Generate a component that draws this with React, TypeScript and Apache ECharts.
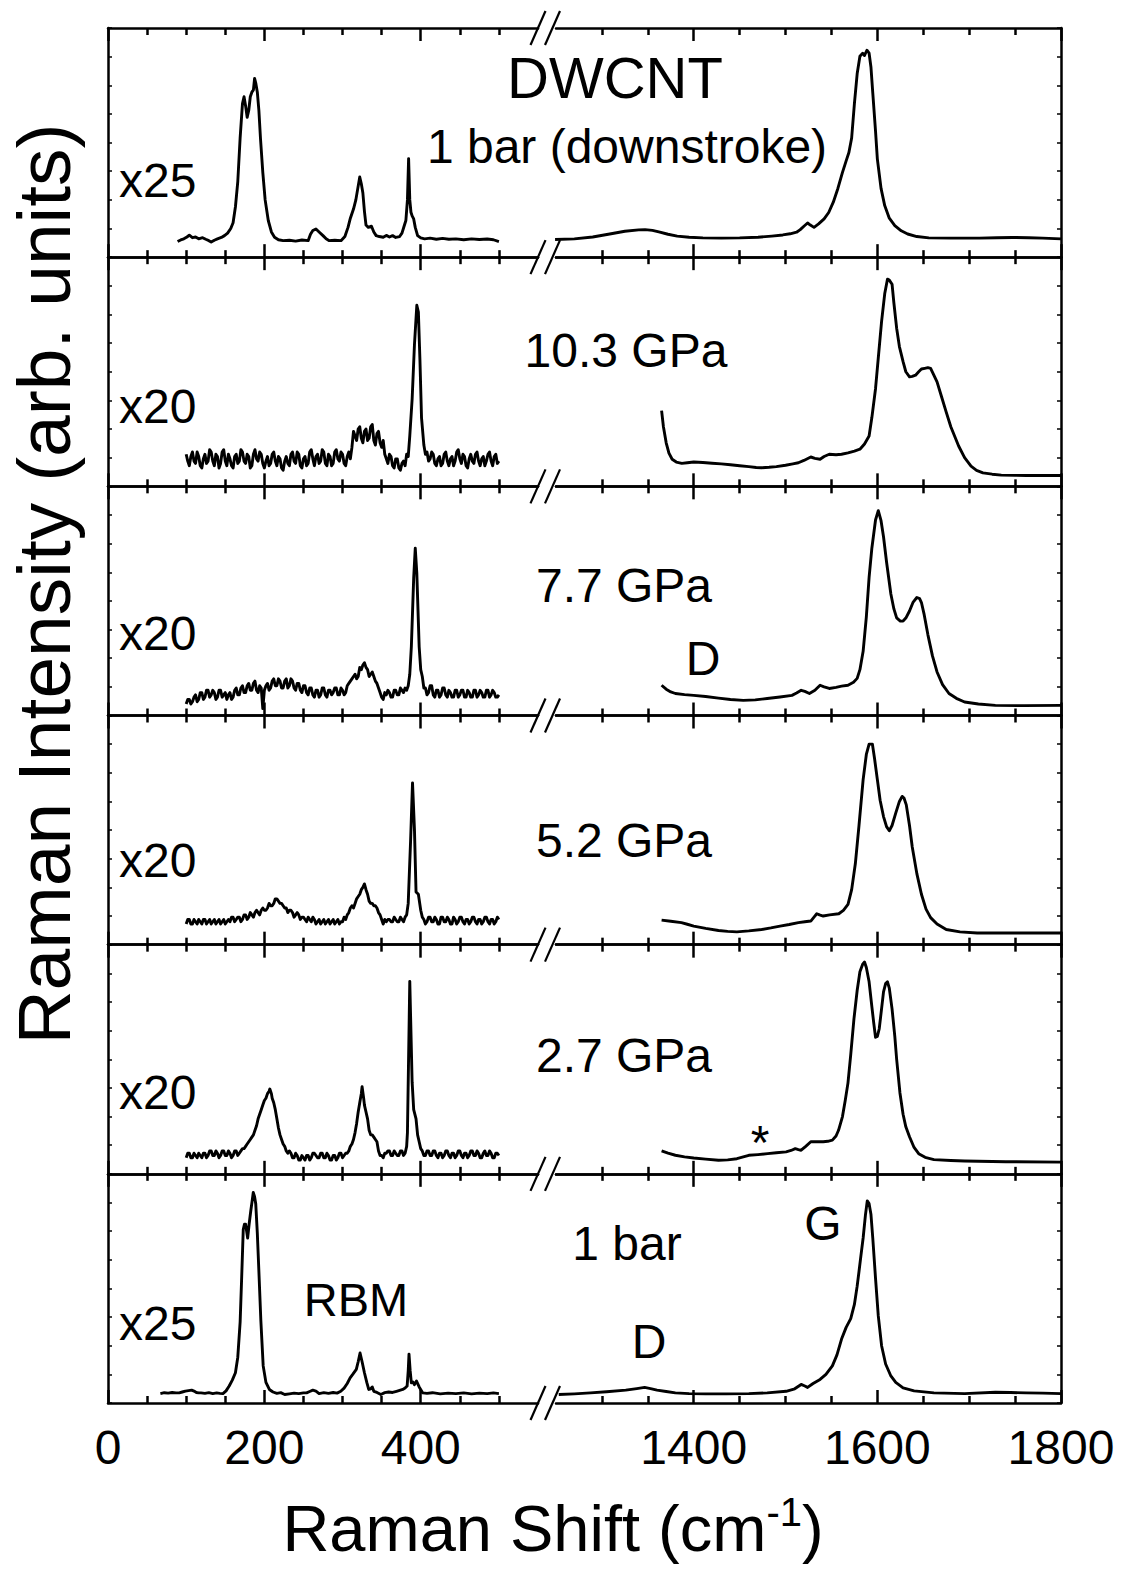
import React, { useEffect, useRef } from "react";
import * as echarts from "echarts";

// ---------------- data (x: Raman shift in cm^-1, y: intensity, arb. units, 0..100 per panel) -------------
const panelTitles = ["1 bar (downstroke)", "10.3 GPa", "7.7 GPa", "5.2 GPa", "2.7 GPa", "1 bar"];
const scaleFactors = ["x25", "x20", "x20", "x20", "x20", "x25"];
const leftMajorTicks = [0, 200, 400];
const leftMinorTicks = [50, 100, 150, 250, 300, 350, 450, 500];
const rightMajorTicks = [1400, 1600, 1800];
const rightMinorTicks = [1300, 1350, 1450, 1500, 1550, 1650, 1700, 1750];
const leftRange = [0, 550];
const rightRange = [1250, 1800];

// panel 1: 1 bar (downstroke)
const rbmDown = [[89,6.8],[93,7.5],[97,8],[101,8.8],[104,9.6],[108,8.5],[112,8.8],[116,8],[121,8.5],[125,7.8],[129,7.2],[132,6.6],[136,7.4],[140,8],[145,8.6],[149,9.4],[153,10.5],[157,12.5],[160,15],[163,22],[166,33],[169,52],[172,67],[174,70],[176,66],[178,61],[180,64],[182,70],[184,72],[186,73],[187.5,78],[189,76],[191,72],[193,64],[195,52],[198,37],[201,25],[205,16],[209,11],[213,8.7],[218,7.6],[224,7.2],[232,7.4],[240,7],[248,7.5],[256,7.2],[259,10],[262,11.6],[266,12.3],[270,11],[275,9.4],[279,8],[283,7.2],[290,7.4],[298,7.2],[303,9],[307,13],[310,17],[314,21],[317,25],[320,31],[322,35],[324,32],[326,28],[328,20],[330,14],[333,13],[337,13.5],[340,11],[343,9.4],[347,9],[352,8.7],[356,9.5],[360,8.8],[364,9.4],[368,8.6],[373,9],[376,10.5],[379,13.8],[381,16],[383,25],[384.5,43],[386,25],[387.5,19.6],[389,18],[391,16.7],[393,13],[396,9.4],[400,8.4],[405,8],[412,8.3],[420,7.8],[428,8.2],[436,7.8],[445,8],[455,7.6],[465,8],[475,7.7],[485,7.9],[493,7.6],[500,6.8]];
const gDown = [[1249,7.7],[1270,8],[1290,8.8],[1310,10.2],[1325,11.3],[1340,11.9],[1347,12],[1355,11.7],[1362,11],[1372,10],[1382,9.2],[1395,8.7],[1410,8.4],[1430,8.3],[1450,8.4],[1470,8.7],[1485,9.2],[1497,9.7],[1505,10.2],[1512,10.9],[1516,12],[1520,13.5],[1524,14.9],[1527,14],[1531,13],[1536,14.5],[1542,16.7],[1547,19.5],[1552,24],[1557,30],[1562,37],[1566,42],[1569,45.7],[1572,52],[1575,67],[1578,80],[1581,87.7],[1584,89],[1586,88],[1588.6,90.3],[1591,89],[1593,83],[1595,71.7],[1598,55],[1600,42.8],[1604,30],[1608,22.5],[1613,17],[1619,13.8],[1626,11.5],[1633,10.1],[1643,9],[1656,8.4],[1680,8.3],[1711,8.3],[1730,8.5],[1747,8.6],[1765,8.5],[1780,8.3],[1800,8]];

// panel 2: 10.3 GPa
const rbm103 = [[100,14],[102,11],[104,9],[106,13],[108,15],[110,11],[112,10],[114,15],[116,13],[118,9],[120,8],[122,12],[124,14],[126,10],[128,11],[130,16],[132,15],[134,11],[136,9],[138,14],[140,13],[142,8],[144,10],[146,15],[148,16],[150,11],[152,9],[154,14],[156,12],[158,9],[160,8],[162,13],[164,14],[166,10],[168,11],[170,16],[172,15],[174,11],[176,10],[178,14],[180,13],[182,8],[184,9],[186,14],[188,16],[190,12],[192,11],[194,15],[196,14],[198,10],[200,8],[202,11],[204,13],[206,9],[208,10],[210,14],[212,15],[214,11],[216,9],[218,13],[220,12],[222,8],[224,7],[226,11],[228,13],[230,10],[232,9],[234,14],[236,15],[238,11],[240,10],[242,15],[244,14],[246,9],[248,8],[250,12],[252,13],[254,9],[256,10],[258,15],[260,16],[262,12],[264,9],[266,13],[268,14],[270,10],[272,11],[274,16],[276,15],[278,10],[280,9],[282,14],[284,13],[286,9],[288,10],[290,15],[292,16],[294,12],[296,11],[298,15],[300,14],[302,10],[304,9],[306,13],[308,15],[310,12],[312,17],[314,24],[316,22],[318,20],[320,25],[322,26],[324,21],[326,19],[328,24],[330,25],[332,20],[334,21],[336,26],[338,27],[340,20],[342,18],[344,23],[346,24],[348,19],[350,17],[352,20],[354,14],[356,12],[358,10],[360,14],[362,13],[364,9],[366,8],[368,12],[370,12],[372,8],[374,7],[376,10],[378,11],[380,9],[382,14],[384,13],[386,22],[389,38],[392,62],[395,79],[397,76],[399,55],[401,30],[404,18],[406,14],[408,15],[410,11],[412,12],[414,15],[416,14],[418,10],[420,9],[422,12],[424,13],[426,9],[428,10],[430,14],[432,15],[434,11],[436,9],[438,12],[440,13],[442,9],[444,11],[446,15],[448,16],[450,12],[452,10],[454,14],[456,13],[458,9],[460,8],[462,12],[464,14],[466,11],[468,10],[470,14],[472,15],[474,11],[476,9],[478,12],[480,13],[482,9],[484,11],[486,14],[488,15],[490,11],[492,9],[494,13],[496,14],[498,10],[500,11]];
const g103 = [[1365,33],[1367,26],[1370,19],[1373,14.5],[1376.5,11.8],[1381,10.6],[1387,10],[1393,10.3],[1400,10.6],[1410,10.4],[1420,10.1],[1430,9.8],[1440,9.4],[1450,9],[1460,8.6],[1468,8.2],[1474,8.1],[1482,8.3],[1490,8.6],[1500,9.2],[1508,9.8],[1514,10.3],[1520,11.3],[1527.5,12.8],[1532,12.2],[1537.6,11.8],[1542,13],[1547.6,14],[1555,13.8],[1561,14],[1568,14.6],[1575,15.4],[1581,16.2],[1586,18.5],[1591,22],[1594,30],[1598,42.6],[1601,56],[1604.6,72],[1608,84],[1611,90.4],[1613,90],[1616,88.2],[1618,80],[1621,69],[1624,61],[1628,54.4],[1631,50],[1635,47.8],[1638,48],[1641.6,48.5],[1645,50],[1648,51.2],[1651.6,51.5],[1655,51.8],[1658,51.5],[1661,49],[1665,45.6],[1670,39],[1675,32.4],[1680,26],[1688.5,17.6],[1695,12.5],[1702,8.8],[1708,7],[1715,5.9],[1725,5.3],[1735,4.9],[1750,4.8],[1762,4.7],[1780,4.8],[1800,4.7]];

// panel 3: 7.7 GPa
const rbm77 = [[100,5],[102,7],[104,7],[106,5],[108,6],[110,8],[112,9],[114,6],[116,7],[118,10],[120,10],[122,7],[124,8],[126,11],[128,11],[130,8],[132,9],[134,11],[136,10],[138,7],[140,8],[142,11],[144,11],[146,8],[148,9],[150,10],[152,7],[154,9],[156,10],[158,7],[160,8],[162,11],[164,12],[166,9],[168,9],[170,12],[172,13],[174,10],[176,10],[178,13],[180,14],[182,11],[184,11],[186,14],[188,15],[190,11],[192,10],[194,13],[196,12],[198,3],[200,11],[202,13],[204,14],[206,11],[208,12],[210,15],[212,16],[214,13],[216,13],[218,16],[220,15],[222,12],[224,12],[226,15],[228,16],[230,12],[232,13],[234,16],[236,15],[238,12],[240,11],[242,14],[244,14],[246,11],[248,10],[250,13],[252,13],[254,10],[256,9],[258,12],[260,12],[262,9],[264,8],[266,11],[268,11],[270,8],[272,9],[274,12],[276,12],[278,9],[280,8],[282,11],[284,11],[286,9],[288,10],[290,12],[292,12],[294,9],[296,9],[298,12],[300,11],[302,9],[304,10],[306,13],[308,14],[310,15],[312,16],[314,17],[316,18],[318,16],[320,17],[322,21],[324,20],[326,22],[328,23],[330,21],[332,20],[334,17],[336,18],[338,19],[340,17],[342,15],[344,14],[346,12],[348,10],[350,8],[352,7],[354,10],[356,9],[358,11],[360,10],[362,8],[364,8],[366,11],[368,11],[370,9],[372,9],[374,12],[376,11],[378,10],[380,12],[382,11],[384,13],[386,18],[388,30],[391,60],[393,73],[395,62],[398,30],[400,20],[402,17],[404,12],[406,12],[408,9],[410,10],[412,13],[414,13],[416,9],[418,8],[420,11],[422,11],[424,8],[426,9],[428,12],[430,12],[432,9],[434,8],[436,11],[438,10],[440,8],[442,8],[444,11],[446,11],[448,8],[450,9],[452,11],[454,11],[456,8],[458,8],[460,11],[462,10],[464,8],[466,8],[468,11],[470,11],[472,8],[474,9],[476,11],[478,10],[480,8],[482,8],[484,11],[486,11],[488,8],[490,9],[492,11],[494,10],[496,8],[498,8],[500,9]];
const g77 = [[1365,13.2],[1370,11.5],[1375,10.3],[1380,9.6],[1390,9.1],[1400,8.8],[1413,8.3],[1427,7.6],[1440,7],[1454,6.6],[1467,6.8],[1480,7.4],[1494,8.1],[1507,8.8],[1512,9.8],[1517,11],[1521,10.5],[1526,9.6],[1532,11],[1537.6,13.2],[1542,12.5],[1547.6,11.8],[1555,12.3],[1561,12.8],[1568,13.2],[1574,14.5],[1578,16.2],[1581,20],[1584.5,28],[1588,43],[1591,60.3],[1594,73],[1598,85.3],[1601,89.4],[1604,85],[1606.7,78],[1610,67],[1614.7,53],[1618,46.5],[1621,42.6],[1625,41.2],[1628,41.2],[1631,42.5],[1635,45.6],[1639,49.5],[1643,51.5],[1646,51],[1648,49.3],[1651,44],[1655,35.3],[1660,26],[1665,19],[1671,13.5],[1678,9.6],[1686,7.5],[1695,5.9],[1710,5],[1728.5,4.4],[1760,4.3],[1800,4.4]];

// panel 4: 5.2 GPa
const rbm52 = [[100,9],[102,11],[104,11],[106,9],[108,9],[110,11],[112,10],[114,9],[116,11],[118,10],[120,9],[122,11],[124,11],[126,9],[128,10],[130,11],[132,9],[134,10],[136,11],[138,9],[140,10],[142,11],[144,9],[146,10],[148,11],[150,9],[152,10],[154,11],[156,10],[158,12],[160,12],[162,10],[164,11],[166,12],[168,12],[170,10],[172,11],[174,13],[176,13],[178,11],[180,12],[182,14],[184,13],[186,12],[188,14],[190,15],[192,14],[194,13],[196,15],[198,16],[200,15],[202,15],[204,16],[206,18],[208,17],[210,17],[212,18],[214,20],[216,20],[218,19],[220,18],[222,18],[224,17],[226,16],[228,16],[230,14],[232,15],[234,15],[236,14],[238,12],[240,13],[242,14],[244,13],[246,11],[248,12],[250,12],[252,11],[254,10],[256,12],[258,11],[260,10],[262,12],[264,11],[266,9],[268,10],[270,11],[272,9],[274,10],[276,11],[278,9],[280,10],[282,11],[284,9],[286,10],[288,11],[290,9],[292,10],[294,11],[296,9],[298,10],[300,10],[302,12],[304,11],[306,13],[308,14],[310,16],[312,17],[314,16],[316,18],[318,20],[320,21],[322,22],[324,24],[326,25],[328,26.5],[330,24],[332,22],[334,19],[336,18],[338,18],[340,17],[342,17],[344,16],[346,14],[348,13],[350,11],[352,9],[354,11],[356,10],[358,11],[360,11],[362,10],[364,10],[366,12],[368,11],[370,10],[372,10],[374,12],[376,11],[378,10],[380,12],[382,13],[384,18],[387,45],[389.5,70.6],[392,50],[394,23],[397,22],[400,15],[402,12],[404,11],[406,9],[408,10],[410,12],[412,12],[414,10],[416,10],[418,12],[420,11],[422,9],[424,9],[426,12],[428,12],[430,10],[432,10],[434,12],[436,11],[438,9],[440,9],[442,12],[444,11],[446,9],[448,10],[450,12],[452,12],[454,10],[456,9],[458,11],[460,11],[462,9],[464,10],[466,12],[468,12],[470,10],[472,9],[474,11],[476,11],[478,9],[480,10],[482,12],[484,12],[486,10],[488,9],[490,11],[492,11],[494,9],[496,10],[498,12],[500,11]];
const g52 = [[1365,10.7],[1375,10.2],[1386.6,9.6],[1393,8.9],[1400,8.1],[1413,7.1],[1427,6.2],[1437,5.8],[1447,5.6],[1460,6],[1474,6.6],[1484,7.3],[1494,8.1],[1504,8.8],[1514,9.6],[1521,10],[1527.5,10.3],[1531,12],[1534,13.5],[1537,13],[1541,12.5],[1548,13],[1558,13.5],[1563,15],[1568,17.6],[1572,24],[1576,35.3],[1580,52],[1584.5,72],[1588,83],[1591,87.5],[1594.6,87.5],[1597,81],[1600,72],[1603,63],[1606.7,55.9],[1610,51.5],[1613,49.7],[1616,52],[1620,57.4],[1624,62.5],[1627,64.7],[1629,64],[1631.5,61],[1635,52],[1638,42.6],[1643,31],[1648,22],[1653,15.5],[1658,11.8],[1665,9],[1675,6.6],[1690,5.6],[1708.7,5.1],[1750,5.1],[1800,5.1]];

// panel 5: 2.7 GPa
const rbm27 = [[100,7],[102,9],[104,9],[106,7],[108,7],[110,9],[112,8],[114,7],[116,9],[118,8],[120,7],[122,9],[124,9],[126,7],[128,8],[130,10],[132,10],[134,8],[136,8],[138,10],[140,9],[142,7],[144,8],[146,10],[148,10],[150,8],[152,8],[154,10],[156,9],[158,7],[160,8],[162,10],[164,10],[166,8],[168,9],[170,10],[172,11],[174,11],[176,12],[178,13],[180,14],[182,15],[184,16],[186,17],[188,19],[190,21],[192,24],[194,26],[196,28],[198,30],[200,32],[202,33],[204,35],[206,36],[207,37],[209,35],[210,33],[212,31],[214,28],[216,24],[218,20],[220,17],[222,15],[224,13],[226,12],[228,10],[230,9],[232,10],[234,9],[236,7],[238,7],[240,9],[242,8],[244,6],[246,6],[248,8],[250,7],[252,6],[254,8],[256,8],[258,6],[260,7],[262,9],[264,9],[266,8],[268,7],[270,7],[272,9],[274,9],[276,7],[278,7],[280,9],[282,8],[284,6],[286,6],[288,8],[290,8],[292,6],[294,7],[296,9],[298,9],[300,7],[302,8],[304,9],[306,9],[308,10],[310,12],[312,13],[314,15],[316,18],[318,22],[320,27],[322,31],[324,35],[325,38],[327,33],[328,30],[330,27],[332,24],[334,19],[336,17],[338,17],[340,16],[342,15],[344,14],[346,10],[348,8],[350,8],[352,7],[354,9],[356,9],[358,10],[360,10],[362,8],[364,8],[366,10],[368,9],[370,8],[372,8],[374,10],[376,10],[378,8],[380,9],[382,12],[383,18],[386,84],[389,40],[391,28],[394,24],[396,17],[398,14],[400,11],[402,10],[404,8],[406,8],[408,10],[410,10],[412,8],[414,8],[416,10],[418,10],[420,8],[422,7],[424,9],[426,9],[428,7],[430,8],[432,10],[434,10],[436,8],[438,7],[440,9],[442,9],[444,7],[446,8],[448,10],[450,10],[452,8],[454,7],[456,9],[458,9],[460,7],[462,8],[464,10],[466,10],[468,8],[470,8],[472,10],[474,9],[476,7],[478,7],[480,9],[482,10],[484,8],[486,8],[488,10],[490,9],[492,7],[494,7],[496,9],[498,9],[500,8]];
const g27 = [[1365,10],[1372,9],[1380,8.1],[1390,7.4],[1400,6.9],[1413,6.4],[1427,5.9],[1437,6.1],[1447,6.6],[1455,7.5],[1460,8.1],[1470,8.4],[1480.5,8.8],[1490,9.2],[1500.6,9.6],[1506,10.2],[1510.6,11],[1514,10.6],[1517,10.3],[1522,12],[1527.5,14],[1534,14],[1541,14],[1546,14.2],[1551,14.7],[1555,16.5],[1557.7,19],[1562,25],[1565,32],[1568,39.7],[1571,52],[1574.5,67.6],[1578,80],[1581,88.2],[1584,91.5],[1586,92.4],[1588,90],[1591,83.8],[1594,73],[1596,66],[1598,59.6],[1600,60],[1602,63.2],[1604,70],[1606.7,79.4],[1609,83],[1611,83.8],[1613,81],[1616,72],[1619,60],[1621,50],[1624.6,35.3],[1628,26],[1631,20.5],[1635,16.2],[1640,11.5],[1645,8.8],[1652,7.2],[1661.6,6.2],[1680,5.8],[1695,5.6],[1740,5.3],[1800,5.1]];

// panel 6: 1 bar
const rbm1 = [[67,4.1],[72,4.5],[77,4.3],[82,4.6],[87,4.4],[91,4.4],[95,4.8],[99,5.2],[103,5.4],[107,5.6],[110,5.2],[113,4.6],[116,4.4],[119,4.4],[124,4.2],[129,4.5],[134,4.1],[139,4.4],[143,4.2],[147,4.1],[151,5.3],[155,7.4],[159,10],[163,13.2],[166,20],[169,35.3],[171,55],[173,75.7],[174.5,78],[176,78],[177.3,75],[178.6,72],[180.5,78],[182.6,83.8],[184.3,88],[185.8,91.9],[187.5,90],[189,86.8],[191,74],[193,57.4],[195.5,36],[198.5,16.2],[202,9],[206.4,5.9],[211,4.8],[216,4.2],[221,4.5],[226,3.7],[232,4],[238,4.3],[244,4.1],[250,4.4],[254,4.4],[258,5],[262,5.6],[266,5.2],[270,4.1],[276,4.5],[282,4.2],[288,4.6],[293,4.3],[297.7,5.1],[302,6.5],[306,8.5],[309.7,11],[313,12.5],[317.6,14.7],[320,18],[322.4,21.8],[325,18],[328,13.2],[331,9],[333.5,5.9],[336,6.2],[338,7],[340,5.1],[344,4.6],[349,3.7],[354,4.5],[359,4.8],[364,4.6],[369,5.1],[373,5.5],[377,5.9],[380,6.5],[382.6,7.4],[384,14],[385,21.3],[386.5,14],[388,8.8],[390,9.2],[392,8],[394.6,9.6],[398,7],[402.6,4.4],[408,4.2],[415,4.5],[425,4],[435,4.3],[445,4.1],[455,4.4],[465,4],[475,4.3],[485,4.1],[493,4.4],[500,4.1]];
const g1 = [[1253,3.7],[1270,4],[1287.5,4.4],[1305,4.9],[1326,5.6],[1338,6.3],[1346.5,6.8],[1353,6.3],[1360,5.6],[1370,5],[1380,4.4],[1395,4.1],[1413,4],[1435,4],[1460,4.1],[1480,4.4],[1500.6,5.1],[1510,6.2],[1517,8.1],[1521,7.4],[1524,6.8],[1530,8.5],[1537.6,10.3],[1544,12.5],[1551,16.2],[1556,21],[1561,27.9],[1566,33],[1571,36.8],[1575,43],[1578,51],[1580,57.4],[1582,64],[1584.5,72],[1587,82],[1589,88.2],[1591,87],[1593,82.4],[1595,72],[1598,54.4],[1601,38],[1604.6,25],[1609,17],[1614.7,11.8],[1620,9],[1628,6.6],[1640,5.3],[1661.6,4.4],[1695,4.1],[1728.5,4.7],[1745,4.6],[1762,4.4],[1780,4.3],[1800,4.1]];

const leftCurves = [rbmDown, rbm103, rbm77, rbm52, rbm27, rbm1];
const rightCurves = [gDown, g103, g77, g52, g27, g1];

// ---------------- layout -------------
const W = 1121;
const H = 1571;
const FONT = "'Liberation Sans', Arial, Helvetica, sans-serif";
const TOP = 28;
const BOTTOM = 1403;
const NP = 6;
const PH = (BOTTOM - TOP) / NP;
const LEFT_X = 108;
const LEFT_W = 430;
const RIGHT_X = 556;
const RIGHT_W = 505;
const AXIS_W = 2.5;

function buildOption() {
  const grid: any[] = [];
  const xAxis: any[] = [];
  const yAxis: any[] = [];
  const series: any[] = [];
  const lineStyle = { color: "#000", width: AXIS_W };

  for (let k = 0; k < NP; k++) {
    const top = TOP + k * PH;
    for (let side = 0; side < 2; side++) {
      const gi = grid.length;
      grid.push({ left: side ? RIGHT_X : LEFT_X, width: side ? RIGHT_W : LEFT_W, top, height: PH });
      const range = side ? rightRange : leftRange;
      const major = side ? rightMajorTicks : leftMajorTicks;
      const minor = side ? rightMinorTicks : leftMinorTicks;
      const isBottomPanel = k === NP - 1;
      const base = { type: "value", gridIndex: gi, min: range[0], max: range[1], splitLine: { show: false } };
      const dataAxisIndex = xAxis.length;
      for (const pos of ["bottom", "top"]) {
        xAxis.push({
          ...base,
          position: pos,
          axisLine: { show: true, onZero: false, lineStyle },
          axisTick: { show: true, inside: true, length: 13, customValues: major, lineStyle },
          axisLabel: {
            show: isBottomPanel && pos === "bottom",
            customValues: major,
            formatter: (v: number) => String(v),
            margin: 20,
            fontSize: 48,
            color: "#000",
            fontFamily: FONT,
          },
        });
        xAxis.push({
          ...base,
          position: pos,
          axisLine: { show: false, onZero: false },
          axisTick: { show: true, inside: true, length: 7, customValues: minor, lineStyle },
          axisLabel: { show: false },
        });
      }
      yAxis.push({
        type: "value",
        gridIndex: gi,
        position: side ? "right" : "left",
        min: 0,
        max: 100,
        interval: 12.5,
        axisLine: { show: true, onZero: false, lineStyle },
        axisTick: { show: true, inside: true, length: 4, lineStyle: { color: "#000", width: 1.5 } },
        axisLabel: { show: false },
        splitLine: { show: false },
      });
      series.push({
        type: "line",
        xAxisIndex: dataAxisIndex,
        yAxisIndex: gi,
        data: side ? rightCurves[k] : leftCurves[k],
        symbol: "none",
        showSymbol: false,
        silent: true,
        clip: true,
        lineStyle: { color: "#000", width: 2.9, join: "round" },
      });
    }
  }

  const txt = (text: string, x: number, y: number, size: number, align = "center") => ({
    type: "text",
    x,
    y,
    silent: true,
    style: {
      text,
      fill: "#000",
      font: `${size}px ${FONT}`,
      fontSize: size,
      fontFamily: FONT,
      textAlign: align,
      align,
      textVerticalAlign: "middle",
      verticalAlign: "middle",
    },
  });

  const graphics: any[] = [];
  // axis-break marks
  for (let k = 0; k <= NP; k++) {
    const y = TOP + k * PH;
    for (const cx of [538, 552.5]) {
      graphics.push({
        type: "line",
        silent: true,
        shape: { x1: cx - 7.5, y1: y + 17, x2: cx + 7.5, y2: y - 17 },
        style: { stroke: "#000", lineWidth: 2.2 },
      });
    }
  }
  const titleY = [146, 350, 585, 840, 1055, 1243];
  const titleX = [627, 626, 624, 624, 624, 627];
  const scaleY = [180, 406, 633, 860, 1092, 1323];
  for (let k = 0; k < NP; k++) {
    graphics.push(txt(panelTitles[k], titleX[k], titleY[k], 48));
    graphics.push(txt(scaleFactors[k], 119, scaleY[k], 48, "left"));
  }
  graphics.push(txt("DWCNT", 615, 77, 58));
  graphics.push(txt("D", 703, 658, 48));
  graphics.push(txt("*", 760, 1142, 48));
  graphics.push(txt("G", 823, 1223, 48));
  graphics.push(txt("RBM", 356, 1299, 47));
  graphics.push(txt("D", 649, 1341, 48));
  // axis titles
  graphics.push({
    type: "text",
    x: 44,
    y: 584,
    rotation: Math.PI / 2,
    silent: true,
    style: {
      text: "Raman Intensity (arb. units)",
      fill: "#000",
      font: `75px ${FONT}`,
      fontSize: 75,
      fontFamily: FONT,
      textAlign: "center",
      align: "center",
      textVerticalAlign: "middle",
      verticalAlign: "middle",
    },
  });
  graphics.push({
    type: "text",
    x: 553,
    y: 1528,
    silent: true,
    style: {
      text: "{a|Raman Shift (cm}{s|-1}{a|)}",
      fill: "#000",
      textAlign: "center",
      align: "center",
      textVerticalAlign: "middle",
      verticalAlign: "middle",
      rich: {
        a: { fontSize: 65, fontFamily: FONT, fill: "#000", lineHeight: 72 },
        s: { fontSize: 40, fontFamily: FONT, fill: "#000", lineHeight: 40, verticalAlign: "top" },
      },
    },
  });

  return {
    animation: false,
    backgroundColor: "#fff",
    grid,
    xAxis,
    yAxis,
    series,
    graphic: { elements: graphics },
  };
}

export default function App() {
  const ref = useRef<HTMLDivElement>(null);
  useEffect(() => {
    document.body.style.margin = "0";
    if (!ref.current) return;
    const chart = echarts.init(ref.current, undefined, { renderer: "svg", width: W, height: H });
    chart.setOption(buildOption() as any);
    return () => chart.dispose();
  }, []);
  return <div ref={ref} style={{ width: W, height: H, background: "#fff" }} />;
}
